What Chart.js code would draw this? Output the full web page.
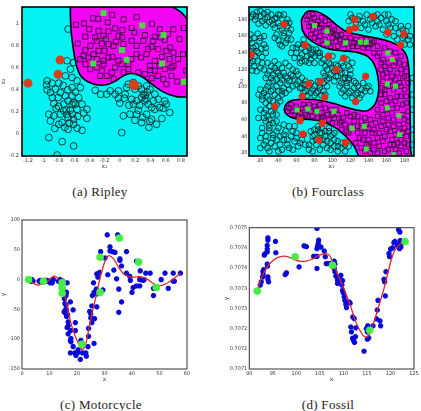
<!DOCTYPE html>
<html>
<head>
<meta charset="utf-8">
<script src="https://cdn.jsdelivr.net/npm/chart.js@4.4.1/dist/chart.umd.min.js"></script>
<style>
  body { margin: 0; background: #fff; }
  #wrap { position: relative; width: 421px; height: 411px; overflow: hidden; }
  canvas { position: absolute; }
  .cap { position: absolute; width: 200px; text-align: center; font-family: "Liberation Serif", "DejaVu Serif", serif;
         font-size: 13px; line-height: 13px; letter-spacing: 0.3px; color: #222; }
</style>
</head>
<body>
<div id="wrap">
  <canvas id="ripley" width="210" height="178" style="left:0px;top:0px"></canvas>
  <canvas id="fourclass" width="211" height="178" style="left:210px;top:0px"></canvas>
  <canvas id="moto" width="210" height="178" style="left:0px;top:205px"></canvas>
  <canvas id="fossil" width="211" height="178" style="left:210px;top:205px"></canvas>
  <div class="cap" style="left:0px;top:185px">(a) Ripley</div>
  <div class="cap" style="left:228px;top:185px">(b) Fourclass</div>
  <div class="cap" style="left:1px;top:398px">(c) Motorcycle</div>
  <div class="cap" style="left:228px;top:398px">(d) Fossil</div>
</div>
<script>
// ---------- (a) Ripley ----------
const ripleyXTicks = [-1.2, -1, -0.8, -0.6, -0.4, -0.2, 0, 0.2, 0.4, 0.6, 0.8];
const ripleyYTicks = [-0.2, 0, 0.2, 0.4, 0.6, 0.8, 1];
const ripleyCircles = [
  [-0.676,0.952],[-0.689,0.664],[-0.603,0.648],[-0.646,0.588],[-0.711,0.527],[-0.624,0.512],[-0.559,0.482],
  [-0.516,0.421],[-0.624,0.421],[-0.797,0.461],[-0.949,0.482],[-0.958,0.445],[-0.884,0.461],[-0.841,0.406],
  [-0.906,0.376],[-0.776,0.376],[-0.711,0.345],[-0.806,0.330],[-0.676,0.300],[-0.603,0.285],[-0.581,0.270],
  [-0.732,0.270],[-0.862,0.276],[-0.732,0.209],[-0.646,0.215],[-0.559,0.224],[-0.429,0.224],[-0.776,0.179],
  [-0.862,0.164],[-0.927,0.179],[-0.906,0.118],[-0.676,0.148],[-0.603,0.133],[-0.429,0.142],[-0.754,0.103],
  [-0.676,0.042],[-0.559,0.052],[-0.494,0.033],[-0.797,0.088],[-0.603,0.088],[-0.927,-0.033],[-0.754,-0.070],
  [-0.603,-0.109],[-0.819,-0.191],[-0.624,0.345],[-0.537,0.330],[-0.494,0.270],[-0.689,0.179],[-0.832,0.233],
  [-0.624,0.270],[-0.95,0.40],[-0.88,0.33],[-0.80,0.25],[-0.70,0.22],[-0.62,0.18],[-0.55,0.16],[-0.47,0.19],
  [-0.66,0.10],[-0.72,0.06],[-0.85,0.05],[-0.58,0.38],[-0.68,0.40],[-0.74,0.44],
  [-0.321,0.397],[-0.126,0.391],[-0.061,0.361],[-0.018,0.324],[0.060,0.324],[0.070,0.361],[0.112,0.452],
  [0.177,0.467],[0.242,0.436],[0.285,0.406],[0.306,0.361],[0.328,0.300],[0.285,0.330],[0.220,0.300],
  [0.155,0.315],[0.177,0.270],[0.393,0.406],[0.458,0.361],[0.501,0.315],[0.588,0.300],[0.606,0.270],
  [0.371,0.270],[0.415,0.239],[0.458,0.224],[0.242,0.215],[0.220,0.179],[0.133,0.179],[0.047,0.164],
  [0.350,0.179],[0.415,0.133],[0.393,0.112],[0.198,0.124],[0.285,0.103],[0.566,0.233],[0.653,0.194],
  [0.480,0.088],[0.025,0.012],[0.198,0.406],[0.350,0.436],[0.090,0.421],[-0.018,0.391],[-0.170,0.361],
  [0.330,0.350],[0.340,0.320],[0.360,0.380],[0.12,0.26],[0.26,0.26],[0.44,0.30],[0.52,0.24],[0.30,0.15],
  [0.38,0.06],[0.55,0.14],[-0.25,0.36],[0.00,0.28]
];
const ripleySquares = [
  [-0.572,0.991],[-0.468,1.003],[-0.282,1.045],[-0.157,1.012],[-0.061,0.958],[0.034,0.942],[0.155,0.961],
  [0.190,0.921],[0.328,0.897],[0.458,0.882],[0.631,0.906],[0.835,0.961],[-0.451,0.882],[-0.321,0.876],
  [-0.213,0.891],[-0.183,0.861],[-0.235,0.821],[-0.148,0.815],[-0.083,0.800],[-0.018,0.891],[-0.053,0.836],
  [-0.278,0.755],[-0.343,0.724],[-0.408,0.694],[-0.473,0.709],[-0.516,0.679],[-0.451,0.633],[-0.386,0.588],
  [-0.300,0.603],[-0.235,0.573],[-0.256,0.527],[-0.170,0.527],[-0.105,0.558],[-0.061,0.603],[0.025,0.633],
  [-0.018,0.664],[-0.148,0.694],[-0.213,0.664],[-0.213,0.633],[-0.200,0.755],[0.112,0.633],[0.112,0.588],
  [0.220,0.724],[0.276,0.694],[0.350,0.724],[0.371,0.770],[0.415,0.791],[0.501,0.770],[0.609,0.755],
  [0.658,0.785],[0.701,0.739],[0.826,0.724],[0.458,0.664],[0.393,0.618],[0.458,0.573],[0.501,0.527],
  [0.566,0.497],[0.609,0.452],[0.675,0.527],[0.753,0.476],[0.588,0.588],[0.675,0.603],[0.328,0.542],
  [0.415,0.506],[0.242,0.558],[0.588,0.852],[0.536,0.876],[0.436,0.845],[0.155,0.845],[0.047,0.815],
  [0.030,0.876],[-0.300,0.845],[-0.386,0.800],[-0.148,0.930],[-0.278,0.936],[0.220,0.800],[0.306,0.845],
  [0.761,0.679],[0.701,0.618],[0.869,0.573],[-0.40,0.95],[-0.35,1.05],[-0.10,1.08],[0.05,1.04],[0.22,1.06],
  [0.42,1.00],[0.52,0.95],[0.70,0.95],[0.78,0.86],[0.65,0.68],[0.55,0.70],[-0.10,0.70],[-0.30,0.68],
  [-0.45,0.76],[-0.55,0.82],[0.15,0.68],[0.05,0.56],[-0.08,0.50],[0.40,0.58],[0.52,0.62]
];
const ripleyRed = [[-1.2,0.461],[-0.806,0.542],[-0.780,0.670],[0.177,0.448],[0.195,0.438]];
const ripleyGreen = [[-0.213,1.097],[0.294,0.985],[0.571,0.897],[0.029,0.761],[0.090,0.673],
  [-0.347,0.639],[0.553,0.639],[0.835,0.473]];
const ripleyBoundary = [
  [-0.646,1.152],[-0.646,1.088],[-0.637,0.936],[-0.616,0.815],[-0.590,0.694],[-0.559,0.603],
  [-0.516,0.533],[-0.451,0.488],[-0.364,0.458],[-0.256,0.442],[-0.148,0.452],[-0.040,0.488],[0.047,0.527],
  [0.133,0.548],[0.220,0.542],[0.306,0.512],[0.393,0.467],[0.480,0.421],[0.566,0.382],[0.653,0.355],
  [0.739,0.339],[0.826,0.336],[0.870,0.336],[0.878,0.336],[0.878,0.345],[0.878,1.03],[0.878,1.042],
  [0.804,1.103],[0.739,1.133],[0.683,1.152],[0.670,1.152],[-0.630,1.152]
];

// ---------- (b) Fourclass ----------
const fourXTicks = [20, 40, 60, 80, 100, 120, 140, 160, 180];
const fourYTicks = [20, 40, 60, 80, 100, 120, 140, 160, 180];
const fourCircles = [
  [12,186],[16,189],[20,184],[24,187],[28,183],[32,186],[14,180],[22,178],[30,177],[36,181],[18,175],[26,173],[34,174],
  [10,183],[20,190],[28,189],[33,179],[15,184],[25,181],
  [38,182],[42,185],[50,180],[40,176],[48,176],[36,170],[44,168],[50,172],[38,162],[46,160],[52,164],[40,155],
  [48,152],[54,156],[44,148],[40,186],[46,186],[52,176],[42,172],[54,168],[46,164],[36,158],[50,156],[42,150],
  [9,162],[13,158],[17,163],[11,152],[15,148],[19,154],[21,145],[10,142],[14,136],[18,140],[22,135],[9,128],
  [13,124],[17,130],[11,119],[20,122],[24,160],[24,150],[8,156],[12,146],[16,142],[20,158],[8,134],[12,130],
  [16,118],[22,128],[26,140],[26,146],
  [62,150],[66,146],[70,142],[74,146],[78,140],[72,136],[66,138],[82,144],[76,132],[70,130],[64,128],[86,136],
  [80,128],[68,156],[60,140],[54,140],[58,134],[56,146],[64,134],[68,150],[72,148],[76,138],[80,136],[84,140],
  [74,128],[78,144],[60,146],[66,130],
  [28,128],[32,124],[36,130],[40,126],[44,122],[48,128],[52,124],[56,120],[30,118],[34,114],[38,118],[42,112],
  [46,116],[50,110],[54,114],[58,108],[26,110],[30,104],[34,106],[38,100],[42,104],[46,98],[50,102],[62,114],
  [66,110],[60,102],[64,98],[70,106],[26,96],[48,92],[40,94],[24,120],[28,114],[32,110],[36,122],[40,116],
  [44,108],[48,112],[52,106],[56,112],[60,118],[34,96],[44,94],[52,96],[56,100],[62,106],[68,102],[28,100],[38,108],
  [88,128],[92,124],[96,128],[100,122],[104,126],[108,120],[112,124],[90,116],[98,114],[106,112],[114,116],
  [118,110],[94,108],[102,106],[110,104],[86,140],[100,136],[116,132],[120,120],[122,128],[90,132],[94,120],
  [98,126],[102,118],[106,124],[110,116],[114,110],[104,112],[96,110],[92,112],[120,114],[110,128],[118,124],
  [108,100],[112,96],[116,100],[120,94],[124,98],[128,92],[132,96],[114,88],[122,86],[130,86],[126,104],
  [134,104],[118,108],[136,94],[140,100],[110,92],[118,92],[126,90],[132,90],[138,98],[128,100],[124,106],
  [116,104],[112,108],[142,94],
  [66,98],[70,94],[74,100],[78,96],[82,92],[86,98],[90,94],[72,89],[80,89],[88,89],[94,100],[76,104],[84,106],
  [68,92],[76,92],[84,94],[92,90],[90,104],[80,100],[70,102],[86,102],
  [20,96],[24,92],[28,88],[32,94],[22,84],[26,80],[30,76],[34,82],[20,72],[24,68],[28,64],[32,70],[36,74],
  [40,86],[44,90],[38,66],[26,58],[30,54],[22,50],[18,62],[18,90],[22,88],[30,84],[26,72],[34,66],[30,60],
  [24,62],[38,78],[42,82],[36,90],
  [22,44],[26,40],[30,46],[34,42],[38,36],[24,30],[28,26],[32,32],[36,28],[40,22],[42,40],[46,36],[50,30],
  [54,40],[58,34],[62,28],[48,46],[44,24],[56,24],[66,36],[70,30],[60,44],[52,52],[40,50],[34,56],[20,38],
  [20,26],[26,34],[30,22],[34,38],[38,46],[42,30],[46,42],[50,36],[52,26],[56,46],[60,38],[64,32],[68,42],
  [58,52],[46,54],[38,58],[30,50],
  [76,46],[80,42],[84,48],[88,44],[92,40],[96,46],[100,42],[78,34],[82,30],[86,36],[90,30],[94,26],[98,32],
  [102,28],[106,34],[74,24],[110,26],[114,22],[118,28],[102,44],[96,50],[84,52],[74,30],[78,40],[82,36],
  [86,44],[90,36],[94,34],[98,40],[102,36],[106,28],[110,32],[114,30],[80,48],[88,50],[92,46],[78,22],
  [86,24],[98,24],[106,22],
  [118,178],[122,182],[126,176],[130,184],[134,178],[138,186],[142,180],[146,184],[150,178],[154,182],
  [158,186],[132,170],[140,168],[148,172],[156,168],[162,174],[166,180],[170,170],[174,164],[178,158],
  [182,166],[186,160],[186,150],[184,172],[160,162],[168,160],[172,156],[180,150],[120,186],[128,180],
  [136,174],[144,176],[152,174],[160,178],[164,170],[170,178],[176,172],[180,160],[150,186],[162,186],
  [184,156],[178,168],
  [189,110],[189,90],[189,72],[189,48],[189,30]
];
const fourSquares = [
  [72,180],[76,176],[80,182],[84,178],[88,174],[78,168],[82,164],[86,160],[90,166],[94,170],[98,164],[92,156],
  [96,152],[100,158],[104,162],[108,156],[112,150],[106,148],[116,154],[120,158],[124,152],[128,148],[132,156],
  [136,150],[140,146],[144,152],[146,140],[118,146],[102,168],[88,182],[74,172],[74,184],[78,186],[82,174],
  [86,170],[92,178],[96,174],[100,166],[104,154],[110,162],[114,158],[122,148],[126,156],[130,152],[134,146],
  [138,156],[142,150],[146,154],[150,148],[76,162],[80,158],[84,154],[90,150],[98,148],[106,160],
  [152,140],[158,146],[164,142],[170,140],[176,136],[156,132],[162,128],[168,124],[174,128],[180,126],[154,120],
  [160,116],[166,112],[172,116],[178,110],[182,118],[156,106],[162,100],[168,96],[174,104],[180,96],[184,104],
  [158,90],[164,86],[170,82],[176,88],[182,80],[154,80],[160,72],[166,68],[172,74],[178,66],[184,70],[150,64],
  [156,58],[162,54],[168,60],[174,54],[180,50],[184,58],[146,48],[152,44],[158,40],[164,46],[170,42],[176,36],
  [182,40],[140,36],[146,32],[152,28],[158,22],[164,30],[170,24],[176,28],[182,22],[136,22],[142,20],
  [150,136],[154,128],[158,124],[164,120],[170,130],[176,120],[180,112],[156,114],[155,98],[158,96],[164,106],
  [170,108],[176,100],[182,88],[154,90],[160,82],[166,78],[172,88],[178,78],[150,72],[156,66],[162,62],
  [168,52],[174,46],[180,60],[184,46],[148,56],[154,52],[160,48],[166,36],[172,32],[178,44],[184,30],[150,38],
  [156,34],[162,24],[168,30],[174,20],[180,32],[146,24],[150,20],
  [52,74],[56,70],[60,76],[64,68],[68,78],[72,64],[76,70],[80,76],[84,62],[88,68],[92,74],[96,60],[100,66],
  [104,72],[108,56],[112,62],[116,68],[120,52],[124,58],[128,64],[132,50],[136,44],[130,38],[126,32],[132,26],
  [138,54],[142,60],[62,64],[70,66],[88,62],[100,56],[110,48],[118,44],[140,28],[50,70],[54,78],[58,66],
  [62,72],[66,62],[70,74],[74,78],[78,64],[82,72],[86,78],[90,64],[94,66],[98,72],[102,62],[106,66],[110,58],
  [114,54],[116,46],[120,64],[124,66],[128,44],[132,58],[136,62],[140,50],[144,44],[134,36],[138,30],[128,52]
];
const fourRed = [
  [10,138],[46.2,174],[69.9,149.2],[95.8,136],[112.4,133.6],[104.3,120],[136.8,112],[73.6,102.8],[86.5,106],
  [66.6,88],[35.9,76],[91.3,86.8],[125.7,81.6],[64,58.8],[88.7,55.6],[67.3,42.8],[85,35.6],[114.6,32.8],
  [124.6,180],[144.9,183.6],[119,168],[125.3,170],[161.5,164.8],[179.3,162.8],[175.6,149.2]
];
const fourGreen = [
  [80.2,172.8],[93.9,166],[93.9,152],[114.6,152],[130.9,152.8],[137.5,152.8],[161.5,140],[166.3,132],
  [160.8,102.8],[170,100],[160.8,74],[173.7,64.8],[174.5,42],[168.2,18],[60.7,71.6],[72.8,72.8],[82.8,70],
  [101.7,70],[121.6,49.6],[135.3,52],[137.5,24.8]
];
const fourBoundary = [
  [65.5,179.6],[71.0,188.9],[82.1,189.6],[93.2,183.6],[104.3,173.6],[115.3,165.6],[130.1,161.6],[148.6,157.7],
  [163.3,153.6],[174.4,147.6],[181.9,137.6],[184.7,121.7],[185.5,97.6],[186.3,57.6],[186.6,25],[186.8,12],
  [130.1,12],[128.5,17],[124.5,27.5],[115.3,39.5],[104.3,49.6],[89.5,57.5],[71,60.5],[58,61.5],[50,65.5],
  [46.5,71.6],[48.8,78.8],[54.4,82.8],[65.5,84.4],[83.9,83.6],[100.5,79.6],[119.0,73.6],[137.5,70.4],
  [146.7,77.6],[151.2,93.6],[150.4,111.6],[146.7,125.6],[139.3,135.6],[126.4,140.9],[111.6,142.4],
  [96.8,144.5],[83.9,149.6],[72.8,157.7],[66.6,167.6],[65.5,179.6]
];

// ---------- (c) Motorcycle ----------
const motoXTicks = [0, 10, 20, 30, 40, 50, 60];
const motoYTicks = [-150, -100, -50, 0, 50, 100];
const motoTimes = [2.4,2.6,3.2,3.6,4.0,6.2,6.6,6.8,7.8,8.2,8.8,8.8,9.6,10.0,10.2,10.6,11.0,11.4,13.2,13.6,13.8,
  14.6,14.6,14.6,14.6,14.6,14.6,14.8,15.4,15.4,15.4,15.4,15.6,15.6,15.8,15.8,16.0,16.0,16.2,16.2,16.2,16.4,16.4,
  16.6,16.8,16.8,16.8,17.6,17.6,17.6,17.6,17.8,17.8,18.6,18.6,19.2,19.4,19.4,19.6,20.2,20.4,21.2,21.4,21.8,22.0,
  23.2,23.4,24.0,24.2,24.2,24.6,25.0,25.0,25.4,25.4,25.6,26.0,26.2,26.2,26.4,27.0,27.2,27.2,27.2,27.6,28.2,28.4,
  28.4,28.6,29.4,30.2,31.0,31.2,32.0,32.0,32.8,33.4,33.8,34.4,34.8,35.2,35.2,35.4,35.6,35.6,36.2,36.2,38.0,38.0,
  39.2,39.4,40.0,40.4,41.6,41.6,42.4,42.8,42.8,43.0,44.0,44.4,45.0,46.6,47.8,47.8,48.8,50.6,52.0,53.2,55.0,55.0,
  55.4,57.6];
const motoAccel = [0.0,-1.3,-2.7,0.0,-2.7,-2.7,-2.7,-1.3,-2.7,-2.7,-1.3,-2.7,-2.7,-2.7,-5.4,-2.7,-5.4,0.0,-2.7,-2.7,
  0.0,-13.3,-5.4,-5.4,-9.3,-16.0,-22.8,-2.7,-22.8,-32.1,-53.5,-54.9,-40.2,-21.5,-21.5,-50.8,-42.9,-26.8,-21.5,
  -50.8,-61.7,-5.4,-80.4,-59.0,-71.0,-91.1,-77.7,-37.5,-85.6,-123.1,-101.9,-99.1,-104.4,-112.5,-50.8,-123.1,-85.6,
  -72.3,-127.2,-123.1,-117.9,-134.0,-101.9,-108.4,-123.1,-123.1,-128.5,-112.5,-95.1,-81.8,-53.5,-64.4,-57.6,-72.3,
  -44.3,-26.8,-5.4,-107.1,-21.5,-65.6,-16.0,-45.6,-24.2,9.5,4.0,12.0,-21.5,37.5,46.9,-17.4,36.2,75.0,8.1,54.9,48.2,
  46.9,16.0,45.6,1.3,75.0,-16.0,-54.9,69.6,34.8,32.1,-37.5,22.8,46.9,10.7,5.4,-1.3,-21.5,-13.3,30.8,-10.7,29.4,0.0,
  -10.7,14.7,-1.3,0.0,10.7,10.7,-26.8,-14.7,-13.3,0.0,10.7,-14.7,-2.7,10.7,-2.7,10.7];
const motoGreen = [[2.4,0],[7.8,-2.7],[14.6,-5.4],[14.6,-13.3],[14.6,-22.8],[21.8,-108.4],[28.4,37.5],
  [28.4,-21.5],[35.4,69.6],[42.4,29.4],[48.8,-13.3]];
const motoFit = [[2.4,-1],[5.4,-8.9],[7.3,-7.2],[9.1,-4.4],[10.9,4.0],[12.1,5.6],[13.3,0.1],[14.5,-10],
  [15.7,-29.5],[17.0,-57.5],[18.2,-79.8],[20.0,-102],[21.8,-117],[23.0,-110.5],[24.2,-85.4],[25.4,-57.5],
  [26.7,-32.3],[27.9,-7.2],[29.1,15.1],[30.3,31.9],[31.5,40.3],[33.3,34.7],[35.1,20.7],[37.0,9.5],[38.8,5.1],
  [40.6,4.0],[43.0,5.1],[45.4,1.2],[47.9,-7.2],[50.3,-10],[52.7,-6.1],[55.1,1.2],[57.6,10.7]];

// ---------- (d) Fossil ----------
const fossilXTicks = [90, 95, 100, 105, 110, 115, 120, 125];
const fossilYTicks = [0.7071, 0.70715, 0.7072, 0.70725, 0.7073, 0.70735, 0.7074, 0.70745];
const fossilYLabels = ['0.7071', '0.7072', '0.7072', '0.7073', '0.7073', '0.7074', '0.7074', '0.7075'];
const fossilPoints = [
  [92.33,0.707308],[92.54,0.707316],[92.83,0.707328],[92.97,0.707335],[92.90,0.707342],[93.04,0.707346],
  [93.18,0.707382],[93.32,0.707385],[93.95,0.707425],[93.95,0.707419],[93.81,0.707406],[93.81,0.707397],
  [93.81,0.707390],[93.81,0.707360],[93.88,0.707355],[93.95,0.707328],[94.09,0.707316],[93.95,0.707322],
  [95.57,0.707416],[95.64,0.707388],[97.62,0.707334],[97.90,0.707338],[100.58,0.707353],[101.63,0.707405],
  [102.13,0.707403],[103.68,0.707379],[104.38,0.707448],[104.73,0.707419],[104.66,0.707411],[104.52,0.707405],
  [104.38,0.707398],[104.38,0.707379],[104.38,0.707349],[105.23,0.707402],[105.93,0.707392],[106.14,0.707378],
  [106.36,0.707361],[107.06,0.707361],[108.05,0.707367],[108.19,0.707360],[108.05,0.707349],[108.19,0.707341],
  [108.40,0.707330],[108.75,0.707320],[108.75,0.707312],[109.11,0.707320],[109.11,0.707328],[109.46,0.707332],
  [109.81,0.707319],[109.67,0.707308],[109.81,0.707295],[109.95,0.707289],[110.16,0.707279],[110.30,0.707270],
  [110.52,0.707260],[110.66,0.707252],[111.22,0.707266],[111.43,0.707263],[111.57,0.707204],[111.71,0.707192],
  [112.00,0.707229],[112.28,0.707225],[111.93,0.707176],[112.14,0.707171],[112.35,0.707166],[112.56,0.707180],
  [112.64,0.707202],[114.39,0.707144],[114.88,0.707200],[115.16,0.707207],[115.09,0.707192],[115.37,0.707177],
  [115.09,0.707174],[116.29,0.707207],[117.06,0.707224],[117.20,0.707246],[117.35,0.707270],[117.77,0.707219],
  [117.91,0.707207],[118.62,0.707322],[118.76,0.707316],[118.90,0.707281],[119.04,0.707341],[119.68,0.707386],
  [119.82,0.707378],[120.03,0.707397],[120.45,0.707400],[120.73,0.707413],[120.94,0.707416],[121.51,0.707405],
  [121.79,0.707410],[121.93,0.707398],[122.14,0.707406],[122.07,0.707418],[122.49,0.707413],[121.72,0.707445],
  [122.00,0.707439],[122.21,0.707402]
];
const fossilGreen = [[91.70,0.707293],[99.73,0.707378],[107.69,0.707357],[115.58,0.707196],[123.11,0.707416]];
const fossilFit = [
  [91.70,0.707295],[92.54,0.707324],[93.60,0.707349],[95.01,0.707369],[96.42,0.707378],[97.83,0.707379],
  [99.24,0.707373],[100.65,0.707367],[102.06,0.707367],[103.47,0.707373],[104.88,0.707382],[106.29,0.707386],
  [107.00,0.707382],[107.70,0.707365],[108.41,0.707345],[109.46,0.707316],[110.52,0.707287],[111.57,0.707254],
  [112.63,0.707217],[113.69,0.707192],[114.53,0.707180],[115.45,0.707184],[116.50,0.707217],[117.56,0.707258],
  [118.62,0.707299],[119.68,0.707349],[120.73,0.707390],[121.79,0.707406],[122.85,0.707419]
];

// ---------- helpers ----------
const CYAN = '#05f2f2';
const MAGENTA = '#f205f2';
const tickFont = { family: 'DejaVu Sans', size: 5 };
const titleFont = { family: 'DejaVu Sans', size: 6 };

function pts(arr) {
  return arr.map(p => ({ x: p[0], y: p[1] }));
}

function axis(min, max, ticks, title, size, isX, labels, pad) {
  return {
    type: 'linear', min: min, max: max,
    grid: { display: false, drawTicks: false },
    border: { display: false },
    afterBuildTicks: s => { s.ticks = ticks.map(v => ({ value: v })); },
    afterFit: s => { if (isX) s.height = size; else s.width = size; },
    ticks: {
      font: tickFont, color: '#333', padding: pad, autoSkip: false, maxRotation: 0,
      callback: (v, i) => labels ? labels[i] : String(v)
    },
    title: { display: true, text: title, font: titleFont, color: '#333', padding: 0 }
  };
}

// frame + background of the plot box
const framePlugin = {
  id: 'frame',
  beforeDraw(chart, args, opts) {
    const a = chart.chartArea, c = chart.ctx;
    c.save();
    c.fillStyle = opts.bg || '#fff';
    c.fillRect(a.left, a.top, a.right - a.left, a.bottom - a.top);
    c.restore();
  },
  afterDraw(chart, args, opts) {
    const a = chart.chartArea, c = chart.ctx;
    c.save();
    c.strokeStyle = opts.color || '#000';
    c.lineWidth = opts.width || 1;
    c.strokeRect(a.left, a.top, a.right - a.left, a.bottom - a.top);
    c.restore();
  }
};

function baseOptions(padding, scales, frame) {
  return {
    responsive: false,
    animation: false,
    layout: { padding: padding },
    scales: scales,
    plugins: { legend: { display: false }, tooltip: { enabled: false }, frame: frame }
  };
}

// ---------- (a) Ripley chart ----------
new Chart(document.getElementById('ripley').getContext('2d'), {
  type: 'scatter',
  data: {
    datasets: [
      { data: pts(ripleyGreen), pointStyle: 'rect', pointRadius: 4.2, pointBackgroundColor: '#3ee03e',
        pointBorderColor: '#3ee03e', pointBorderWidth: 0, order: 1 },
      { data: pts(ripleyRed), pointStyle: 'circle', pointRadius: 4.5, pointBackgroundColor: '#d8401c',
        pointBorderColor: '#d8401c', pointBorderWidth: 0, order: 1 },
      { data: pts(ripleyCircles), pointStyle: 'circle', pointRadius: 3.4, pointBackgroundColor: 'rgba(0,0,0,0)',
        pointBorderColor: '#0a2e2e', pointBorderWidth: 0.9, order: 3 },
      { data: pts(ripleySquares), pointStyle: 'rect', pointRadius: 3.6, pointBackgroundColor: 'rgba(0,0,0,0)',
        pointBorderColor: '#3a0a3a', pointBorderWidth: 0.9, order: 3 },
      { type: 'line', data: pts(ripleyBoundary), fill: 'shape', backgroundColor: MAGENTA, borderColor: '#000',
        borderWidth: 1.6, pointRadius: 0, tension: 0.3, order: 5 }
    ]
  },
  options: baseOptions({ top: 7, right: 23, bottom: 8, left: 0 }, {
    x: axis(-1.278, 0.878, ripleyXTicks, 'x\u2081', 14, true, null, 2),
    y: axis(-0.2, 1.152, ripleyYTicks, 'x\u2082', 22, false, null, 3)
  }, { bg: CYAN, color: '#000', width: 1.6 }),
  plugins: [framePlugin]
});

// ---------- (b) Fourclass chart ----------
new Chart(document.getElementById('fourclass').getContext('2d'), {
  type: 'scatter',
  data: {
    datasets: [
      { data: pts(fourGreen), pointStyle: 'rect', pointRadius: 3.6, pointBackgroundColor: '#3ee03e',
        pointBorderColor: '#3ee03e', pointBorderWidth: 0, order: 1 },
      { data: pts(fourRed), pointStyle: 'circle', pointRadius: 3.6, pointBackgroundColor: '#e0301a',
        pointBorderColor: '#e0301a', pointBorderWidth: 0, order: 1 },
      { data: pts(fourCircles), pointStyle: 'circle', pointRadius: 2.9, pointBackgroundColor: 'rgba(0,0,0,0)',
        pointBorderColor: '#0a2e2e', pointBorderWidth: 0.9, order: 3 },
      { data: pts(fourSquares), pointStyle: 'rect', pointRadius: 3.2, pointBackgroundColor: 'rgba(0,0,0,0)',
        pointBorderColor: '#3a0a3a', pointBorderWidth: 0.9, order: 3 },
      { type: 'line', data: pts(fourBoundary), fill: 'shape', backgroundColor: MAGENTA, borderColor: '#000',
        borderWidth: 1.6, pointRadius: 0, tension: 0.3, order: 5 }
    ]
  },
  options: baseOptions({ top: 7, right: 7, bottom: 8, left: 28 }, {
    x: axis(7.4, 190.5, fourXTicks, 'x\u2081', 14, true, null, 2),
    y: axis(16.4, 195, fourYTicks, 'x\u2082', 11, false, null, 1.5)
  }, { bg: CYAN, color: '#000', width: 1.6 }),
  plugins: [framePlugin]
});

// ---------- (c) Motorcycle chart ----------
const motoPoints = motoTimes.map((t, i) => ({ x: t, y: motoAccel[i] }));
new Chart(document.getElementById('moto').getContext('2d'), {
  type: 'scatter',
  data: {
    datasets: [
      { data: pts(motoGreen), pointStyle: 'circle', pointRadius: 3.8, pointBackgroundColor: '#44ee44',
        pointBorderColor: '#44ee44', pointBorderWidth: 0, order: 1 },
      { type: 'line', data: pts(motoFit), borderColor: '#e02828', borderWidth: 1.3, pointRadius: 0,
        fill: false, tension: 0.4, order: 2 },
      { data: motoPoints, pointStyle: 'star', pointRadius: 2.6, pointBackgroundColor: '#0a0ad8',
        pointBorderColor: '#0a0ad8', pointBorderWidth: 2, order: 3 }
    ]
  },
  options: baseOptions({ top: 15, right: 23, bottom: 0, left: 0 }, {
    x: axis(0, 60, motoXTicks, 'x', 14, true, null, 2),
    y: axis(-150, 100, motoYTicks, 'y', 22, false, null, 2)
  }, { bg: '#fff', color: '#333', width: 1 }),
  plugins: [framePlugin]
});

// ---------- (d) Fossil chart ----------
new Chart(document.getElementById('fossil').getContext('2d'), {
  type: 'scatter',
  data: {
    datasets: [
      { data: pts(fossilGreen), pointStyle: 'circle', pointRadius: 3.8, pointBackgroundColor: '#44ee44',
        pointBorderColor: '#44ee44', pointBorderWidth: 0, order: 1 },
      { type: 'line', data: pts(fossilFit), borderColor: '#e02828', borderWidth: 1.3, pointRadius: 0,
        fill: false, tension: 0.4, order: 2 },
      { data: pts(fossilPoints), pointStyle: 'star', pointRadius: 2.6, pointBackgroundColor: '#0a0ad8',
        pointBorderColor: '#0a0ad8', pointBorderWidth: 2, order: 3 }
    ]
  },
  options: baseOptions({ top: 22.7, right: 7, bottom: 0, left: 13 }, {
    x: axis(90, 125, fossilXTicks, 'x', 14, true, null, 2),
    y: axis(0.7071, 0.70745, fossilYTicks, 'y', 26.3, false, fossilYLabels, 2)
  }, { bg: '#fff', color: '#333', width: 1 }),
  plugins: [framePlugin]
});
</script>
</body>
</html>
